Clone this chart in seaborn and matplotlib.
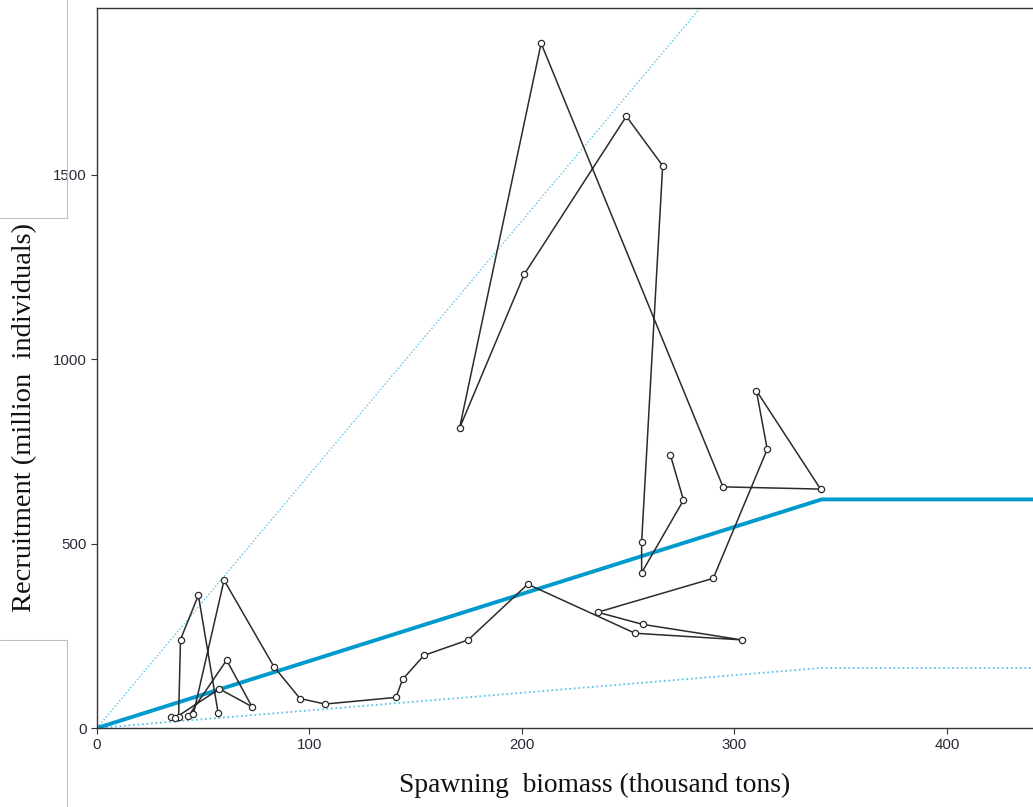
import matplotlib
matplotlib.use("Agg")
import matplotlib.pyplot as plt
import seaborn as sns
import pandas as pd
import numpy as np
from matplotlib.lines import Line2D

# Stock-recruitment trajectory (connected in sequence)
ssb = [57.0, 47.7, 39.3, 38.4, 34.8, 36.7, 57.6, 72.9, 61.0, 43.0, 45.3, 59.8,
       83.3, 95.5, 107.3, 140.7, 143.8, 153.9, 174.7, 202.7, 253.2, 303.4,
       256.8, 235.6, 290.0, 315.4, 310.3, 340.5, 294.6, 209.0, 170.6, 201.1,
       249.1, 266.2, 256.3, 256.3, 276.0, 269.8]
rec = [41, 360, 240, 30, 31, 27, 106, 58, 184, 32, 37, 401,
       166, 80, 65, 83, 132, 197, 239, 390, 257, 239,
       281, 314, 406, 756, 915, 648, 654, 1857, 813, 1231,
       1659, 1525, 505, 421, 618, 741]

# Hockey-stick reference lines
hs_x = [0, 341, 460]
hs_mid = [0, 620, 620]
hs_low = [0, 163, 163]
hs_high = [0, 2346, 2346]

xticks = [0, 100, 200, 300, 400]
yticks = [0, 500, 1000, 1500]

sns.set_style("ticks")
plt.rcParams['font.family'] = ['Liberation Sans', 'DejaVu Sans']

W, H = 1033, 807
fig = plt.figure(figsize=(W / 100, H / 100), dpi=100)
ax = fig.add_axes([97 / W, 1 - 728 / H, 1 - 97 / W, (728 - 8) / H])

blue = "#009ACD"
light = "#5BC3EC"

sns.lineplot(x=hs_x, y=hs_high, ax=ax, color=light, lw=1.0, linestyle=(0, (1, 1.5)))
sns.lineplot(x=hs_x, y=hs_low, ax=ax, color=light, lw=1.3, linestyle=(0, (1, 1.5)))
sns.lineplot(x=hs_x, y=hs_mid, ax=ax, color=blue, lw=2.8)

df = pd.DataFrame({"ssb": ssb, "rec": rec})
sns.lineplot(data=df, x="ssb", y="rec", sort=False, estimator=None, ax=ax,
             color="#2b2b2b", lw=1.1, marker="o", markersize=4.5,
             markerfacecolor="white", markeredgecolor="#2b2b2b", markeredgewidth=0.9)

ax.set_xlim(0, (1033 - 97) / 2.125)
ax.set_ylim(0, (728 - 8) / 0.3687)
ax.set_xticks(xticks)
ax.set_yticks(yticks)
ax.tick_params(axis="both", labelsize=10.8, colors="#333333", length=4, width=0.8,
               direction="out")
ax.tick_params(axis="both", labelcolor="#2a2a3a")
for s in ["left", "bottom", "top"]:
    ax.spines[s].set_visible(True)
    ax.spines[s].set_color("#333333")
    ax.spines[s].set_linewidth(1.0)
ax.spines["right"].set_visible(False)
ax.set_xlabel("")
ax.set_ylabel("")

fig.text(595 / W, 1 - 785 / H, "Spawning  biomass (thousand tons)",
         family=["Liberation Serif", "DejaVu Serif"], fontsize=19.8,
         ha="center", va="center", color="#111111")
fig.text(25 / W, 1 - 417 / H, "Recruitment (million  individuals)",
         family=["Liberation Serif", "DejaVu Serif"], fontsize=20.5,
         ha="center", va="center", rotation=90, color="#111111")

# light grey frame fragments at left edge
g = "#c0c0c0"
for xs, ys in [([67, 67], [0, 218]), ([0, 67], [218, 218]),
               ([67, 67], [640, 807]), ([0, 67], [640, 640])]:
    fig.add_artist(Line2D([x / W for x in xs], [1 - y / H for y in ys],
                          color=g, lw=0.8, transform=fig.transFigure))

fig.savefig("out.png", dpi=100)
